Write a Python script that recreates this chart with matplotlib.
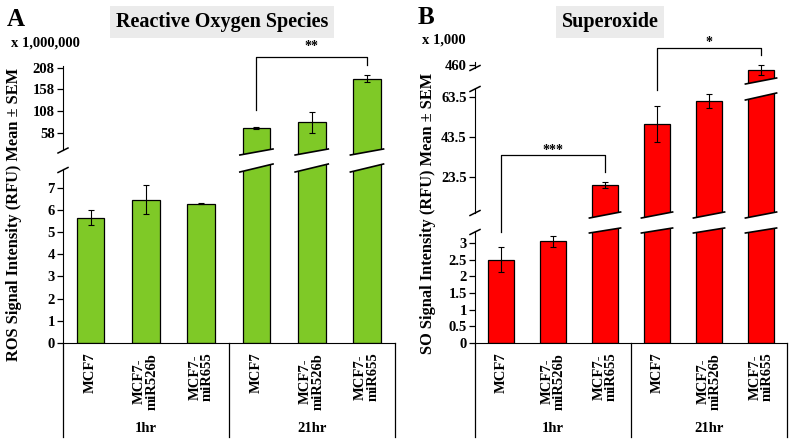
import matplotlib
matplotlib.use('Agg')
import matplotlib.pyplot as plt
from matplotlib.patches import Polygon

plt.rcParams['font.family'] = ['Liberation Serif', 'DejaVu Serif']
plt.rcParams['font.weight'] = 'bold'

W, H = 792, 446

# data
groups = ['1hr', '21hr']
cells = ['MCF7', 'MCF7-\nmiR526b', 'MCF7-\nmiR655']
ticklabels = cells * 2

ros_mean = [5.65, 6.45, 6.27, 69.5, 83, 182]   # x 1,000,000
ros_sem = [0.33, 0.65, 0.03, 2, 24, 8]
so_mean = [2.5, 3.05, 19.5, 50, 61.5, 448]      # x 1,000
so_sem = [0.37, 0.17, 1.6, 9.2, 3.3, 11]

GREEN = '#7fc927'
RED = '#ff0000'

fig = plt.figure(figsize=(W / 100, H / 100), dpi=100)


def px_axes(x0, x1, y0, y1, ylim):
    ax = fig.add_axes([x0 / W, 1 - y1 / H, (x1 - x0) / W, (y1 - y0) / H])
    ax.set_ylim(*ylim)
    ax.box = (y0, y1)
    ax.patch.set_visible(False)
    for s in ('top', 'right'):
        ax.spines[s].set_visible(False)
    ax.tick_params(axis='y', direction='out', length=4, width=0.9, labelsize=10.5, pad=2)
    return ax


def frac(ax, ypx):
    y0, y1 = ax.box
    return (y1 - ypx) / (y1 - y0)


def data_y(ax, ypx):
    lo, hi = ax.get_ylim()
    return lo + frac(ax, ypx) * (hi - lo)


def bars(ax, mean, sem, color, show=None):
    # only the bars that reach this segment of the broken axis
    idx = [i for i in range(len(mean)) if show is None or i in show]
    m = [mean[i] for i in idx]
    e = [sem[i] for i in idx]
    ax.bar(idx, m, width=0.5, color=color, edgecolor='black', linewidth=0.9, zorder=2)
    ax.errorbar(idx, m, yerr=e, fmt='none', ecolor='black', elinewidth=0.8,
                capsize=2.5, capthick=0.8, zorder=4)
    ax.set_xlim(-0.5, len(mean) - 0.5)


def cut(ax, i, y_left, y_right, white_below):
    tr = ax.get_xaxis_transform()
    xl, xr = i - 0.3, i + 0.3
    edge = -0.05 if white_below else 1.05
    poly = [(xl, edge), (xl, frac(ax, y_left)), (xr, frac(ax, y_right)), (xr, edge)]
    ax.add_patch(Polygon(poly, closed=True, fc='white', ec='none', transform=tr, zorder=3))
    ax.plot([xl, xr], [frac(ax, y_left), frac(ax, y_right)], transform=tr,
            color='black', lw=1.2, zorder=5, clip_on=False)


def spine_mark(ax, ypx):
    f = frac(ax, ypx)
    dy = 2.5 / (ax.box[1] - ax.box[0])
    dx = 5 / (ax.get_position().width * W)
    ax.plot([-dx, dx], [f - dy, f + dy], transform=ax.transAxes, color='black',
            lw=1.1, clip_on=False)


def yticks(ax, ticks):
    ax.set_yticks(ticks)
    ax.set_yticklabels([f'{t:g}' for t in ticks])


def upper_style(ax):
    ax.spines['bottom'].set_visible(False)
    ax.set_xticks([])


def category_axis(ax, group_y, sep_y):
    ax.set_xticks(range(len(ticklabels)))
    ax.set_xticklabels(ticklabels, rotation=90, va='top', ha='center',
                       multialignment='center', linespacing=0.95, fontsize=10.5)
    ax.tick_params(axis='x', length=0, pad=7)
    tr = ax.get_xaxis_transform()
    for xs in (-0.5, 2.5, 5.5):
        ax.plot([xs, xs], [0, frac(ax, sep_y)], transform=tr, color='black',
                lw=0.9, clip_on=False)
    for g, xc in zip(groups, (1, 4)):
        ax.text(xc, frac(ax, group_y), g, transform=tr, ha='center', va='center',
                fontsize=10.5)


# ---------------- panel A ----------------
a_lo = px_axes(63, 394.6, 164, 343, (0, 8.06))
a_hi = px_axes(63, 394.6, 66, 155, (7.6, 211.5))
bars(a_lo, ros_mean, ros_sem, GREEN)
bars(a_hi, ros_mean, ros_sem, GREEN, show=(3, 4, 5))
yticks(a_lo, range(0, 8))
yticks(a_hi, [58, 108, 158, 208])
upper_style(a_hi)
a_lo.spines['left'].set_bounds(0, data_y(a_lo, 169))
a_hi.spines['left'].set_bounds(data_y(a_hi, 150), 211.5)
category_axis(a_lo, 428, 437)
for i in (3, 4, 5):
    cut(a_lo, i, 172, 164, white_below=False)
    cut(a_hi, i, 155, 149, white_below=True)
spine_mark(a_lo, 170)
spine_mark(a_hi, 150.5)

a_hi.plot([3, 3, 5, 5], [data_y(a_hi, 110), data_y(a_hi, 57), data_y(a_hi, 57), data_y(a_hi, 65)],
          color='black', lw=0.9, clip_on=False)
a_hi.text(4, data_y(a_hi, 47), '**', ha='center', va='center', fontsize=10)

fig.text(16 / W, 1 - 19 / H, 'A', ha='center', va='center', fontsize=18)
fig.text(222 / W, 1 - 22 / H, 'Reactive Oxygen Species', ha='center', va='center',
         fontsize=14.5, bbox=dict(boxstyle='square,pad=0.3', fc='#ebebeb', ec='none'))
fig.text(45 / W, 1 - 43 / H, 'x 1,000,000', ha='center', va='center', fontsize=10.5)
fig.text(14 / W, 1 - 214 / H, 'ROS Signal Intensity (RFU) Mean \u00b1 SEM', rotation=90,
         ha='center', va='center', fontsize=11.8)

# ---------------- panel B ----------------
b_lo = px_axes(475, 787, 228, 343, (0, 3.45))
b_mid = px_axes(475, 787, 89, 218, (3, 67.5))
b_top = px_axes(475, 787, 62, 84, (416, 466))
bars(b_lo, so_mean, so_sem, RED)
bars(b_mid, so_mean, so_sem, RED, show=(2, 3, 4, 5))
bars(b_top, so_mean, so_sem, RED, show=(5,))
yticks(b_lo, [0, 0.5, 1, 1.5, 2, 2.5, 3])
yticks(b_mid, [23.5, 43.5, 63.5])
yticks(b_top, [460])
upper_style(b_mid)
upper_style(b_top)
b_lo.spines['left'].set_bounds(0, data_y(b_lo, 231))
b_mid.spines['left'].set_bounds(data_y(b_mid, 213), 67.5)
b_top.spines['left'].set_bounds(data_y(b_top, 68), 466)
category_axis(b_lo, 428, 437)
for i in (2, 3, 4, 5):
    cut(b_lo, i, 233, 228, white_below=False)
    cut(b_mid, i, 218, 212, white_below=True)
cut(b_mid, 5, 100, 93, white_below=False)
cut(b_top, 5, 84, 78, white_below=True)
spine_mark(b_lo, 232)
spine_mark(b_mid, 213)
spine_mark(b_mid, 89)
spine_mark(b_top, 68)

b_mid.plot([0, 0, 2, 2], [data_y(b_mid, 232), data_y(b_mid, 155), data_y(b_mid, 155), data_y(b_mid, 172)],
           color='black', lw=0.9, clip_on=False)
b_mid.text(1, data_y(b_mid, 150), '***', ha='center', va='center', fontsize=10)
b_mid.plot([3, 3, 5, 5], [data_y(b_mid, 90), data_y(b_mid, 48), data_y(b_mid, 48), data_y(b_mid, 55)],
           color='black', lw=0.9, clip_on=False)
b_mid.text(4, data_y(b_mid, 43), '*', ha='center', va='center', fontsize=10)

fig.text(426 / W, 1 - 17 / H, 'B', ha='center', va='center', fontsize=18)
fig.text(610 / W, 1 - 22 / H, 'Superoxide', ha='center', va='center',
         fontsize=14.5, bbox=dict(boxstyle='square,pad=0.3', fc='#ebebeb', ec='none'))
fig.text(444 / W, 1 - 40 / H, 'x 1,000', ha='center', va='center', fontsize=10.5)
fig.text(428 / W, 1 - 213 / H, 'SO Signal Intensity (RFU) Mean \u00b1 SEM', rotation=90,
         ha='center', va='center', fontsize=11.8)

fig.savefig('out.png', dpi=100)
